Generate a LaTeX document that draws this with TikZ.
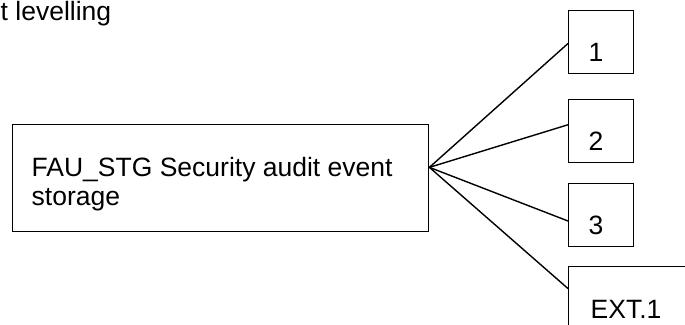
\documentclass[tikz,border=0pt]{standalone}
\usepackage{fontspec}
\setmainfont{Liberation Sans}
\usepackage{tikz}
\usetikzlibrary{calc,positioning}
\newcommand{\bigtxt}{\fontsize{26.5}{29}\selectfont}

\begin{document}
\begin{tikzpicture}[x=1pt, y=-1pt, line width=1.4pt,
  every node/.style={font=\bigtxt, inner sep=0pt},
  levelbox/.style={draw, rectangle, anchor=north west,
    minimum width=65pt, minimum height=63pt}]

  \useasboundingbox (0,0) rectangle (685,324);
  \clip (0,0) rectangle (685,324);

  % ========== HEADING ==========
  \node[anchor=base west] (head) at (0,20) {t levelling};

  % ========== STORAGE COMPONENT ==========
  \node[draw, rectangle, anchor=north west,
        minimum width=416pt, minimum height=107pt] (stg) at (12,124) {};
  \node[anchor=base west, align=left] (stgtext) at (31,205)
    {FAU\_STG Security audit event\\storage};
  \coordinate (fan) at ($(stg.north east)!0.40!(stg.south east)$);

  % ========== LEVEL BOXES ==========
  \foreach \n/\top/\hit in {1/10/0.52, 2/99/0.40, 3/183/0.59}{
    \node[levelbox] (lvl\n) at (568,\top) {};
    \node[anchor=base west] (lbl\n) at (588,\top+51) {\n};
    \draw (fan) -- ($(lvl\n.north west)!\hit!(lvl\n.south west)$);
  }

  % Extended component (runs off the page)
  \node[levelbox, minimum width=140pt] (ext) at (568,266) {};
  \node[anchor=base west] (extlbl) at (590,318) {EXT.1};
  \draw (fan) -- ($(ext.north west)!0.35!(ext.south west)$);

\end{tikzpicture}
\end{document}
